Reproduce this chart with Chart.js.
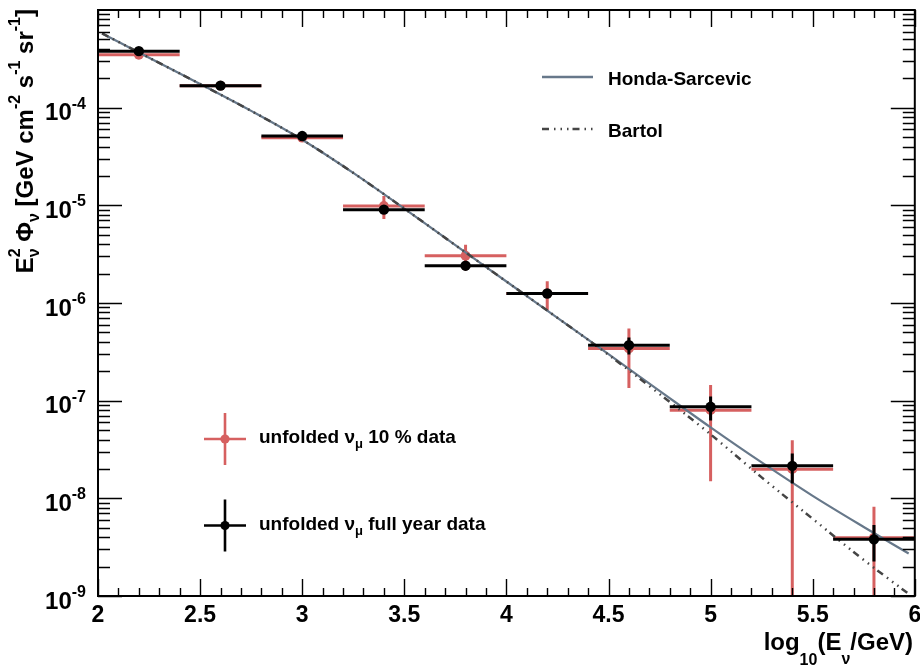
<!DOCTYPE html>
<html>
<head>
<meta charset="utf-8">
<script src="https://cdn.jsdelivr.net/npm/chart.js@4/dist/chart.umd.min.js"></script>
<style>
  html, body { margin: 0; padding: 0; background: #ffffff; }
  #wrap { width: 920px; height: 669px; position: relative; }
</style>
</head>
<body>
<div id="wrap"><canvas id="c" width="920" height="669"></canvas></div>
<script>
// Unfolded muon-neutrino spectrum: bins in log10(E/GeV), E^2 * flux values
const binCenters = [2.2, 2.6, 3.0, 3.4, 3.8, 4.2, 4.6, 5.0, 5.4, 5.8];
const binHalfWidth = 0.2;

const fullYearFlux = [3.79e-4, 1.68e-4, 5.12e-5, 9.03e-6, 2.41e-6, 1.25e-6, 3.70e-7, 8.65e-8, 2.15e-8, 3.80e-9];
const fullYearErr  = [8e-6, 4e-6, 1.5e-6, 4e-7, 1.5e-7, 1.0e-7, 7.3e-8, 2.4e-8, 7.3e-9, 1.54e-9];

const tenPctFlux = [3.48e-4, 1.68e-4, 4.93e-5, 9.84e-6, 3.05e-6, 1.25e-6, 3.42e-7, 8.0e-8, 1.99e-8, 3.95e-9];
const tenPctErr  = [1.0e-5, 6e-6, 2.5e-6, 2.6e-6, 9e-7, 4.2e-7, 2.07e-7, 6.5e-8, 1.95e-8, 4.25e-9];

// Atmospheric flux models
const modelEnergy = [2.02, 2.25, 2.5, 2.75, 3.0, 3.25, 3.5, 3.75, 4.0, 4.25, 4.5, 4.75, 5.0, 5.25, 5.5, 5.75, 5.97];
const hondaFlux  = [5.75e-4, 3.25e-4, 1.75e-4, 9.27e-5, 4.70e-5, 2.15e-5, 9.27e-6, 3.91e-6, 1.66e-6, 7.05e-7, 2.99e-7, 1.26e-7, 5.33e-8, 2.33e-8, 1.06e-8, 5.09e-9, 2.72e-9];
const bartolFlux = [5.75e-4, 3.25e-4, 1.75e-4, 9.27e-5, 4.70e-5, 2.15e-5, 9.27e-6, 3.91e-6, 1.66e-6, 7.05e-7, 2.95e-7, 1.17e-7, 4.52e-8, 1.64e-8, 6.17e-9, 2.34e-9, 1.05e-9];

// Axis labelling
const xTickValues = [2, 2.5, 3, 3.5, 4, 4.5, 5, 5.5, 6];
const xTickLabels = ['2', '2.5', '3', '3.5', '4', '4.5', '5', '5.5', '6'];
const yTickExponents = [-4, -5, -6, -7, -8, -9];

const RED = 'rgb(214,96,96)';
const BLACK = '#000000';
const HONDA = '#67788a';
const BARTOL = '#454545';
const BARTOL_DASH = [7, 5, 1.5, 5, 1.5, 5, 1.5, 4];
const FAMILY = '"Liberation Sans", Arial, Helvetica, sans-serif';
const FONT = (px) => 'bold ' + px + 'px ' + FAMILY;

function segWidth(ctx, s) {
  if (s.stack) return Math.max(...s.stack.map(p => segWidth(ctx, p)));
  ctx.font = FONT(s.f);
  return ctx.measureText(s.t).width;
}

function drawRich(ctx, segs, x, y, align) {
  const total = segs.reduce((a, s) => a + segWidth(ctx, s), 0);
  let cx = align === 'right' ? x - total : (align === 'center' ? x - total / 2 : x);
  ctx.textAlign = 'left';
  ctx.textBaseline = 'alphabetic';
  for (const s of segs) {
    const parts = s.stack || [s];
    for (const p of parts) {
      ctx.font = FONT(p.f);
      ctx.fillText(p.t, cx, y + (p.dy || 0));
    }
    cx += segWidth(ctx, s);
  }
}

// Horizontal bin bars and vertical error bars, drawn just before each data series' markers
const errorBarPlugin = {
  id: 'binErrorBars',
  beforeDatasetDraw(chart, args) {
    const ds = chart.data.datasets[args.index];
    if (!ds.errors) return;
    const { ctx, chartArea: a, scales: { x, y } } = chart;
    ctx.save();
    ctx.beginPath();
    ctx.rect(a.left, a.top, a.right - a.left, a.bottom - a.top);
    ctx.clip();
    ctx.strokeStyle = ds.pointBackgroundColor;
    ctx.lineWidth = 3;
    ctx.lineCap = 'butt';
    ds.data.forEach((pt, i) => {
      const px = x.getPixelForValue(pt.x);
      const py = y.getPixelForValue(pt.y);
      const x0 = x.getPixelForValue(pt.x - binHalfWidth);
      const x1 = x.getPixelForValue(pt.x + binHalfWidth);
      ctx.beginPath();
      ctx.moveTo(x0, py);
      ctx.lineTo(x1, py);
      ctx.stroke();
      const err = ds.errors[i];
      const hi = y.getPixelForValue(pt.y + err);
      const lowVal = pt.y - err;
      const lo = lowVal > 0 ? y.getPixelForValue(lowVal) : a.bottom + 5;
      ctx.beginPath();
      ctx.moveTo(px, hi);
      ctx.lineTo(px, Math.min(lo, a.bottom + 5));
      ctx.stroke();
    });
    ctx.restore();
  }
};

// Frame, inward ticks on all four sides, tick labels, titles and legends
const framePlugin = {
  id: 'frameAndText',
  afterDraw(chart) {
    const { ctx, chartArea: a, scales: { x, y } } = chart;
    ctx.save();
    ctx.strokeStyle = '#000';
    ctx.fillStyle = '#000';

    // ticks
    ctx.lineWidth = 1.4;
    ctx.beginPath();
    for (let k = 0; k <= 40; k++) {
      const v = 2 + k * 0.1;
      const px = Math.round(x.getPixelForValue(v)) + 0.5;
      const len = (k % 5 === 0) ? 17 : 8;
      ctx.moveTo(px, a.bottom); ctx.lineTo(px, a.bottom - len);
      ctx.moveTo(px, a.top); ctx.lineTo(px, a.top + len);
    }
    for (let d = -9; d <= -4; d++) {
      for (let m = 1; m <= 9; m++) {
        const v = m * Math.pow(10, d);
        const py = Math.round(y.getPixelForValue(v)) + 0.5;
        const len = (m === 1) ? 24 : 12;
        ctx.moveTo(a.left, py); ctx.lineTo(a.left + len, py);
        ctx.moveTo(a.right, py); ctx.lineTo(a.right - len, py);
      }
    }
    ctx.stroke();

    // frame
    ctx.lineWidth = 2;
    ctx.strokeRect(a.left, a.top, a.right - a.left, a.bottom - a.top);

    // x tick labels
    ctx.font = FONT(23);
    ctx.textAlign = 'center';
    ctx.textBaseline = 'alphabetic';
    xTickValues.forEach((v, i) => {
      ctx.fillText(xTickLabels[i], x.getPixelForValue(v), 622);
    });

    // y tick labels
    yTickExponents.forEach(e => {
      const py = y.getPixelForValue(Math.pow(10, e));
      drawRich(ctx, [{ t: '10', f: 24 }, { t: String(e), f: 16, dy: -11.7 }], 86, py + 12.6, 'right');
    });

    // x title
    drawRich(ctx, [
      { t: 'log', f: 24 }, { t: '10', f: 16, dy: 15 }, { t: '(E', f: 24 },
      { t: '\u03BD', f: 16, dy: 14 }, { t: '/GeV)', f: 24 }
    ], 913, 650, 'right');

    // y title (rotated)
    ctx.save();
    ctx.translate(33, 9);
    ctx.rotate(-Math.PI / 2);
    drawRich(ctx, [
      { t: 'E', f: 24 },
      { stack: [{ t: '2', f: 16, dy: -13 }, { t: '\u03BD', f: 16, dy: 6 }] },
      { t: ' \u03A6', f: 24 }, { t: '\u03BD', f: 16, dy: 6 },
      { t: ' [GeV cm', f: 24 }, { t: '-2', f: 16, dy: -13 },
      { t: ' s', f: 24 }, { t: '-1', f: 16, dy: -13 },
      { t: ' sr', f: 24 }, { t: '-1', f: 16, dy: -13 },
      { t: ']', f: 24 }
    ], 0, 0, 'right');
    ctx.restore();

    // model legend
    ctx.lineWidth = 2.5;
    ctx.strokeStyle = HONDA;
    ctx.beginPath(); ctx.moveTo(542, 77); ctx.lineTo(593, 77); ctx.stroke();
    ctx.strokeStyle = BARTOL;
    ctx.setLineDash(BARTOL_DASH);
    ctx.beginPath(); ctx.moveTo(542, 129); ctx.lineTo(593, 129); ctx.stroke();
    ctx.setLineDash([]);
    ctx.fillStyle = '#000';
    ctx.font = FONT(19);
    ctx.textAlign = 'left';
    ctx.fillText('Honda-Sarcevic', 608, 85);
    ctx.fillText('Bartol', 608, 137);

    // data legend
    const entries = [
      { c: RED, cy: 439, text: ' 10 % data' },
      { c: BLACK, cy: 525.5, text: ' full year data' }
    ];
    entries.forEach(en => {
      ctx.strokeStyle = en.c;
      ctx.fillStyle = en.c;
      ctx.lineWidth = 2.6;
      ctx.beginPath();
      ctx.moveTo(204, en.cy); ctx.lineTo(246, en.cy);
      ctx.moveTo(225, en.cy - 26); ctx.lineTo(225, en.cy + 26);
      ctx.stroke();
      ctx.beginPath(); ctx.arc(225, en.cy, 4.6, 0, Math.PI * 2); ctx.fill();
      ctx.fillStyle = '#000';
      drawRich(ctx, [{ t: 'unfolded \u03BD', f: 19 }, { t: '\u03BC', f: 13, dy: 5 }, { t: en.text, f: 19 }], 259, en.cy + 4, 'left');
    });
    ctx.restore();
  }
};

const toPoints = (xs, ys) => xs.map((v, i) => ({ x: v, y: ys[i] }));

new Chart(document.getElementById('c'), {
  type: 'scatter',
  data: {
    datasets: [
      {
        label: 'unfolded 10 % data',
        data: toPoints(binCenters, tenPctFlux),
        errors: tenPctErr,
        pointRadius: 4.9,
        pointBackgroundColor: RED,
        pointBorderWidth: 0,
        order: 4
      },
      {
        label: 'Honda-Sarcevic',
        type: 'line',
        data: toPoints(modelEnergy, hondaFlux),
        borderColor: HONDA,
        borderWidth: 2.2,
        pointRadius: 0,
        cubicInterpolationMode: 'monotone',
        fill: false,
        order: 3
      },
      {
        label: 'Bartol',
        type: 'line',
        data: toPoints(modelEnergy, bartolFlux),
        borderColor: BARTOL,
        borderWidth: 2.5,
        borderDash: BARTOL_DASH,
        pointRadius: 0,
        cubicInterpolationMode: 'monotone',
        fill: false,
        order: 2
      },
      {
        label: 'unfolded full year data',
        data: toPoints(binCenters, fullYearFlux),
        errors: fullYearErr,
        pointRadius: 5.2,
        pointBackgroundColor: BLACK,
        pointBorderWidth: 0,
        order: 1
      }
    ]
  },
  options: {
    responsive: false,
    animation: false,
    devicePixelRatio: 1,
    layout: { padding: { left: 98, right: 5, top: 10, bottom: 73 } },
    scales: {
      x: { type: 'linear', min: 2, max: 6, display: false },
      y: { type: 'logarithmic', min: 1e-9, max: 1e-3, display: false }
    },
    plugins: { legend: { display: false }, tooltip: { enabled: false } }
  },
  plugins: [errorBarPlugin, framePlugin]
});
</script>
</body>
</html>
